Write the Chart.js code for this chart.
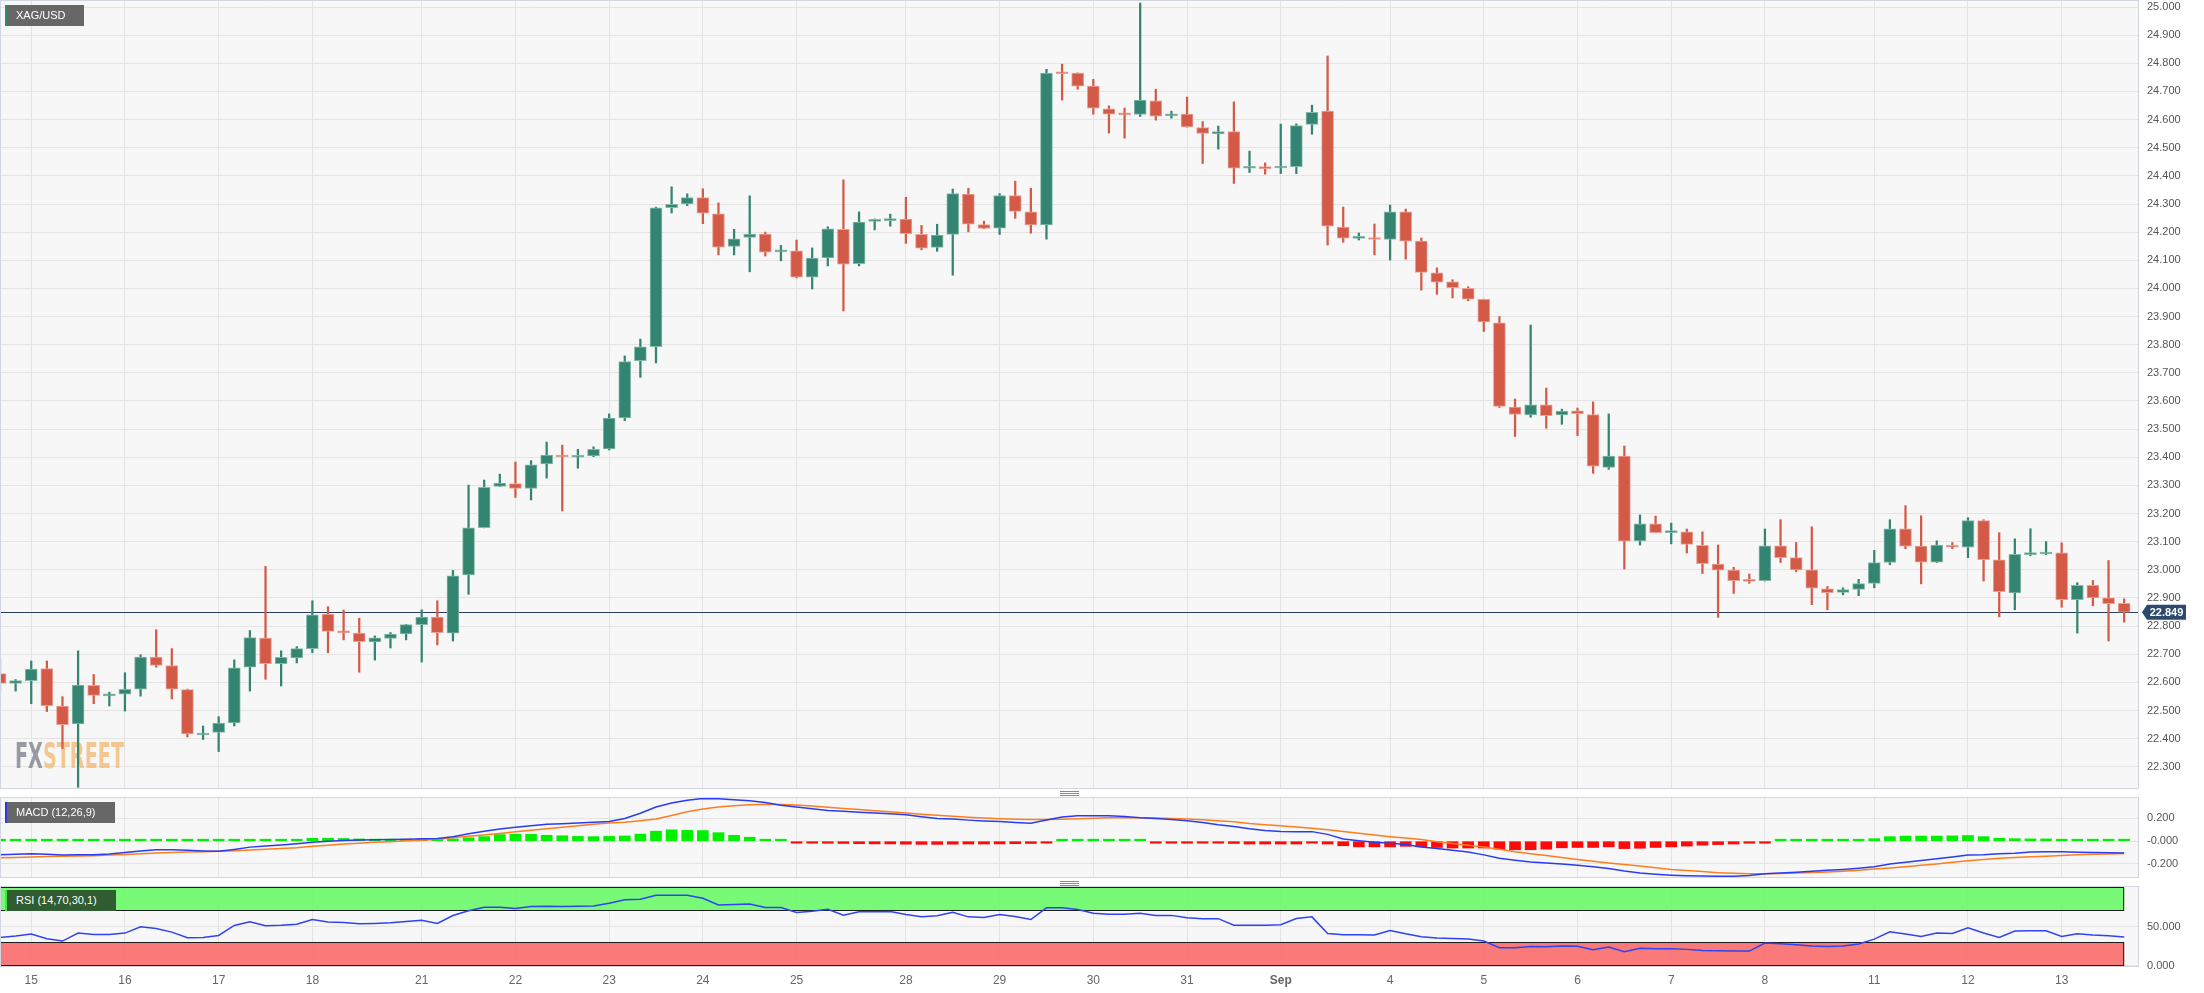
<!DOCTYPE html>
<html>
<head>
<meta charset="utf-8">
<title>XAG/USD</title>
<script src="https://cdn.jsdelivr.net/npm/chart.js@4.4.0/dist/chart.umd.min.js"></script>
<style>
  html, body { margin: 0; padding: 0; background: #fff; }
  #wrap { position: relative; width: 2204px; height: 993px; overflow: hidden; font-family: "Liberation Sans", Arial, sans-serif; }
  canvas { position: absolute; left: 0; }
  #priceCanvas { top: 0; }
  #macdCanvas { top: 797px; }
  #rsiCanvas { top: 886px; }
  .tag { position: absolute; left: 5px; height: 21px; line-height: 21px; color: #fff; font-size: 11px; padding-left: 11px; box-sizing: border-box; white-space: nowrap; }
  .tag span { position: absolute; left: 0; top: 0; width: 2px; height: 21px; }
  .handle { position: absolute; left: 1060px; width: 19px; height: 5px; border-top: 1px solid #8a8a8a; border-bottom: 1px solid #8a8a8a; box-sizing: border-box; }
  .handle::after { content: ''; position: absolute; left: 0; right: 0; top: 1px; height: 1px; background: #8a8a8a; }
</style>
</head>
<body>
<div id="wrap">
  <canvas id="priceCanvas" width="2204" height="789"></canvas>
  <canvas id="macdCanvas" width="2204" height="81"></canvas>
  <canvas id="rsiCanvas" width="2204" height="107"></canvas>
  <div class="tag" style="top:5px;width:79px;background:rgba(95,95,95,0.95);"><span style="background:#2e8b6e"></span>XAG/USD</div>
  <div class="tag" style="top:802px;width:110px;background:rgba(95,95,95,0.95);"><span style="background:#2b3bd8"></span>MACD (12,26,9)</div>
  <div class="tag" style="top:890px;width:111px;background:#2f5c30;"><span style="background:#40e840"></span>RSI (14,70,30,1)</div>
  <div class="handle" style="top:791px"></div>
  <div class="handle" style="top:881px"></div>
</div>
<script>
// 4h candles, 15 Aug -> 13 Sep
const open = [
  22.631, 22.596, 22.606, 22.649, 22.516, 22.452, 22.589, 22.552, 22.558, 22.576,
  22.690, 22.660, 22.574, 22.413, 22.422, 22.456, 22.654, 22.757, 22.666, 22.687,
  22.720, 22.843, 22.779, 22.775, 22.744, 22.756, 22.772, 22.805, 22.832, 22.775,
  22.982, 23.150, 23.296, 23.306, 23.289, 23.376, 23.408, 23.400, 23.405, 23.430,
  23.540, 23.743, 23.793, 24.287, 24.300, 24.323, 24.265, 24.149, 24.181, 24.193,
  24.130, 24.134, 24.040, 24.108, 24.210, 24.088, 24.238, 24.241, 24.246, 24.192,
  24.146, 24.192, 24.335, 24.227, 24.214, 24.330, 24.272, 24.226, 24.766, 24.765,
  24.719, 24.638, 24.620, 24.618, 24.667, 24.613, 24.620, 24.572, 24.549, 24.557,
  24.427, 24.431, 24.428, 24.433, 24.583, 24.630, 24.218, 24.178, 24.181, 24.174,
  24.272, 24.168, 24.055, 24.023, 24.000, 23.961, 23.878, 23.578, 23.550, 23.586,
  23.550, 23.565, 23.552, 23.364, 23.404, 23.103, 23.163, 23.132, 23.135, 23.087,
  23.020, 22.999, 22.961, 22.961, 23.085, 23.043, 23.000, 22.932, 22.920, 22.930,
  22.952, 23.026, 23.146, 23.084, 23.027, 23.087, 23.080, 23.175, 23.035, 22.918,
  23.054, 23.056, 23.060, 22.894, 22.945, 22.900, 22.881
];
const high = [
  22.683, 22.610, 22.676, 22.676, 22.549, 22.712, 22.628, 22.565, 22.634, 22.698,
  22.787, 22.720, 22.576, 22.445, 22.478, 22.680, 22.784, 23.012, 22.712, 22.727,
  22.890, 22.869, 22.857, 22.828, 22.765, 22.777, 22.806, 22.858, 22.890, 22.998,
  23.301, 23.319, 23.340, 23.383, 23.388, 23.454, 23.443, 23.428, 23.437, 23.554,
  23.760, 23.820, 24.289, 24.361, 24.336, 24.354, 24.304, 24.210, 24.329, 24.200,
  24.153, 24.172, 24.144, 24.219, 24.386, 24.272, 24.247, 24.264, 24.324, 24.224,
  24.228, 24.353, 24.356, 24.239, 24.337, 24.381, 24.356, 24.779, 24.797, 24.766,
  24.743, 24.649, 24.641, 25.014, 24.708, 24.630, 24.680, 24.593, 24.577, 24.663,
  24.488, 24.446, 24.584, 24.585, 24.651, 24.826, 24.289, 24.197, 24.229, 24.296,
  24.282, 24.179, 24.073, 24.031, 24.006, 23.962, 23.900, 23.607, 23.870, 23.646,
  23.571, 23.575, 23.597, 23.554, 23.440, 23.195, 23.191, 23.166, 23.145, 23.135,
  23.088, 23.009, 22.985, 23.145, 23.178, 23.097, 23.153, 22.941, 22.936, 22.966,
  23.069, 23.178, 23.228, 23.192, 23.103, 23.097, 23.185, 23.178, 23.132, 23.110,
  23.146, 23.100, 23.096, 22.954, 22.962, 23.033, 22.897
];
const low = [
  22.565, 22.569, 22.524, 22.496, 22.365, 22.227, 22.524, 22.516, 22.498, 22.551,
  22.654, 22.541, 22.406, 22.397, 22.354, 22.445, 22.569, 22.611, 22.587, 22.669,
  22.705, 22.705, 22.751, 22.636, 22.679, 22.722, 22.751, 22.672, 22.733, 22.747,
  22.913, 23.149, 23.296, 23.257, 23.248, 23.326, 23.209, 23.361, 23.402, 23.426,
  23.530, 23.684, 23.735, 24.268, 24.294, 24.230, 24.119, 24.119, 24.059, 24.115,
  24.098, 24.037, 23.998, 24.080, 23.920, 24.080, 24.208, 24.221, 24.160, 24.137,
  24.132, 24.047, 24.201, 24.212, 24.192, 24.249, 24.196, 24.175, 24.669, 24.708,
  24.619, 24.552, 24.534, 24.611, 24.598, 24.605, 24.573, 24.444, 24.495, 24.373,
  24.412, 24.406, 24.408, 24.408, 24.548, 24.154, 24.164, 24.172, 24.119, 24.101,
  24.104, 23.994, 23.979, 23.966, 23.956, 23.847, 23.577, 23.474, 23.542, 23.503,
  23.517, 23.477, 23.343, 23.357, 23.003, 23.088, 23.131, 23.092, 23.060, 22.987,
  22.831, 22.916, 22.952, 22.960, 23.026, 22.993, 22.876, 22.858, 22.911, 22.908,
  22.936, 23.018, 23.075, 22.950, 23.026, 23.075, 23.043, 22.960, 22.833, 22.858,
  23.050, 23.054, 22.867, 22.775, 22.872, 22.747, 22.814
];
const close = [
  22.596, 22.606, 22.647, 22.517, 22.450, 22.590, 22.554, 22.555, 22.575, 22.690,
  22.660, 22.576, 22.417, 22.420, 22.455, 22.652, 22.759, 22.666, 22.689, 22.720,
  22.840, 22.781, 22.776, 22.745, 22.758, 22.772, 22.805, 22.832, 22.777, 22.979,
  23.149, 23.293, 23.308, 23.289, 23.373, 23.408, 23.401, 23.407, 23.428, 23.539,
  23.740, 23.792, 24.286, 24.299, 24.323, 24.267, 24.147, 24.176, 24.193, 24.129,
  24.136, 24.040, 24.108, 24.212, 24.086, 24.236, 24.243, 24.246, 24.195, 24.143,
  24.190, 24.337, 24.228, 24.213, 24.330, 24.274, 24.226, 24.765, 24.763, 24.719,
  24.641, 24.619, 24.617, 24.669, 24.612, 24.618, 24.574, 24.551, 24.557, 24.427,
  24.429, 24.426, 24.434, 24.579, 24.626, 24.221, 24.179, 24.181, 24.174, 24.272,
  24.168, 24.057, 24.022, 24.003, 23.962, 23.881, 23.581, 23.552, 23.586, 23.548,
  23.564, 23.555, 23.368, 23.404, 23.102, 23.163, 23.132, 23.134, 23.090, 23.022,
  22.999, 22.961, 22.959, 23.085, 23.043, 23.000, 22.935, 22.919, 22.930, 22.951,
  23.026, 23.146, 23.084, 23.027, 23.088, 23.080, 23.175, 23.036, 22.922, 23.055,
  23.057, 23.060, 22.894, 22.945, 22.900, 22.880, 22.849
];

const macdLine = [
  -0.119, -0.115, -0.110, -0.115, -0.122, -0.120, -0.118, -0.112, -0.100, -0.087,
  -0.076, -0.074, -0.080, -0.086, -0.089, -0.072, -0.052, -0.042, -0.033, -0.022,
  -0.010, 0.000, 0.006, 0.010, 0.012, 0.014, 0.018, 0.022, 0.024, 0.040,
  0.065, 0.088, 0.107, 0.122, 0.136, 0.148, 0.154, 0.160, 0.166, 0.172,
  0.200, 0.246, 0.300, 0.335, 0.360, 0.374, 0.372, 0.364, 0.356, 0.340,
  0.315, 0.300, 0.285, 0.270, 0.262, 0.255, 0.247, 0.242, 0.232, 0.215,
  0.200, 0.195, 0.185, 0.178, 0.172, 0.165, 0.157, 0.186, 0.212, 0.223,
  0.224, 0.223, 0.216, 0.206, 0.200, 0.190, 0.180, 0.165, 0.145, 0.130,
  0.110, 0.095, 0.086, 0.084, 0.084, 0.060, 0.020, 0.005, -0.010, -0.018,
  -0.030, -0.050, -0.065, -0.080, -0.095, -0.120, -0.150, -0.168, -0.183, -0.192,
  -0.200, -0.212, -0.225, -0.240, -0.262, -0.280, -0.290, -0.298, -0.303, -0.306,
  -0.308, -0.308, -0.300, -0.286, -0.280, -0.272, -0.264, -0.256, -0.248, -0.238,
  -0.225, -0.200, -0.185, -0.170, -0.155, -0.138, -0.122, -0.118, -0.110, -0.105,
  -0.095, -0.092, -0.093, -0.097, -0.099, -0.101, -0.103
];
const signalLine = [
  -0.145, -0.142, -0.138, -0.135, -0.132, -0.130, -0.127, -0.122, -0.116, -0.110,
  -0.104, -0.099, -0.095, -0.092, -0.089, -0.084, -0.078, -0.071, -0.064, -0.057,
  -0.044, -0.035, -0.025, -0.018, -0.010, -0.004, 0.003, 0.009, 0.018, 0.030,
  0.043, 0.055, 0.068, 0.083, 0.097, 0.110, 0.122, 0.135, 0.148, 0.160,
  0.166, 0.180, 0.195, 0.225, 0.258, 0.283, 0.300, 0.312, 0.320, 0.325,
  0.323, 0.318, 0.310, 0.298, 0.288, 0.278, 0.268, 0.258, 0.248, 0.237,
  0.228, 0.220, 0.211, 0.203, 0.196, 0.192, 0.190, 0.190, 0.193, 0.198,
  0.202, 0.206, 0.206, 0.205, 0.204, 0.200, 0.195, 0.188, 0.180, 0.170,
  0.155, 0.145, 0.135, 0.124, 0.113, 0.100, 0.085, 0.070, 0.055, 0.040,
  0.028, 0.015, -0.005, -0.020, -0.035, -0.050, -0.070, -0.092, -0.110, -0.125,
  -0.143, -0.160, -0.177, -0.192, -0.205, -0.218, -0.232, -0.248, -0.258, -0.267,
  -0.276, -0.282, -0.285, -0.285, -0.283, -0.280, -0.275, -0.270, -0.264, -0.256,
  -0.245, -0.235, -0.225, -0.212, -0.200, -0.185, -0.172, -0.160, -0.150, -0.143,
  -0.136, -0.131, -0.126, -0.120, -0.115, -0.112, -0.109
];
const macdHist = [
  0.006, 0.006, 0.006, 0.005, 0.004, 0.004, 0.005, 0.006, 0.012, 0.013,
  0.012, 0.006, 0.002, 0.002, 0.002, 0.010, 0.015, 0.016, 0.016, 0.017,
  0.025, 0.026, 0.024, 0.020, 0.018, 0.017, 0.015, 0.015, 0.014, 0.020,
  0.030, 0.040, 0.058, 0.062, 0.060, 0.052, 0.048, 0.042, 0.040, 0.042,
  0.046, 0.062, 0.088, 0.100, 0.095, 0.093, 0.075, 0.052, 0.035, 0.012,
  0.002, -0.010, -0.015, -0.018, -0.020, -0.022, -0.024, -0.024, -0.026, -0.028,
  -0.028, -0.026, -0.025, -0.025, -0.024, -0.022, -0.020, -0.002, 0.008, 0.012,
  0.010, 0.006, 0.002, 0.001, -0.002, -0.006, -0.010, -0.013, -0.016, -0.020,
  -0.025, -0.025, -0.025, -0.025, -0.012, -0.025, -0.040, -0.050, -0.050, -0.050,
  -0.045, -0.050, -0.055, -0.060, -0.060, -0.060, -0.070, -0.075, -0.075, -0.070,
  -0.058, -0.055, -0.055, -0.050, -0.065, -0.062, -0.055, -0.050, -0.043, -0.035,
  -0.030, -0.025, -0.018, -0.004, 0.004, 0.006, 0.008, 0.010, 0.012, 0.015,
  0.022, 0.040, 0.045, 0.045, 0.045, 0.047, 0.050, 0.040, 0.025, 0.022,
  0.020, 0.020, 0.013, 0.008, 0.005, 0.003, 0.002
];
const rsi = [
  36.0, 37.8, 40.3, 34.4, 31.4, 41.6, 39.9, 39.9, 41.6, 49.6,
  47.5, 42.8, 35.6, 36.0, 38.6, 51.3, 56.0, 50.9, 51.7, 53.0,
  58.9, 55.6, 55.1, 53.4, 53.9, 54.7, 56.4, 58.1, 53.9, 64.0,
  70.0, 74.6, 74.6, 72.9, 75.5, 75.9, 75.5, 75.9, 76.3, 79.7,
  84.0, 84.8, 89.9, 89.9, 89.9, 86.0, 77.6, 78.0, 78.8, 74.2,
  74.3, 67.9, 69.5, 72.1, 64.5, 68.7, 68.9, 69.0, 65.3, 62.3,
  63.6, 68.3, 62.3, 61.5, 65.3, 62.8, 58.9, 73.8, 73.8, 71.7,
  67.0, 65.7, 65.6, 67.0, 64.0, 64.2, 61.1, 59.8, 60.0, 51.7,
  51.7, 51.6, 52.2, 60.2, 62.3, 41.1, 39.4, 39.5, 39.3, 45.0,
  40.7, 36.9, 35.2, 34.8, 33.9, 31.4, 23.0, 22.9, 24.6, 24.2,
  25.0, 24.8, 20.4, 23.7, 17.8, 22.1, 21.6, 21.7, 20.8, 19.5,
  19.1, 18.7, 18.6, 28.8, 28.0, 26.7, 25.0, 24.6, 25.0, 27.6,
  33.9, 43.3, 40.3, 37.3, 41.6, 41.1, 48.3, 41.6, 36.0, 44.1,
  44.5, 44.6, 37.3, 40.7, 39.0, 38.2, 36.5
];

const dayTickIdx = [2, 8, 14, 20, 27, 33, 39, 45, 51, 58, 64, 70, 76, 82, 89, 95, 101, 107, 113, 120, 126, 132];
const dayTickLabels = ['15', '16', '17', '18', '21', '22', '23', '24', '25', '28', '29', '30', '31', 'Sep', '4', '5', '6', '7', '8', '11', '12', '13'];
const rsiUpper = [70, 100];
const rsiLower = [0, 30];

const FONT = '"Liberation Sans", Arial, sans-serif';
const gridColor = '#e4e4e4';
const frameColor = '#d2d6e2';
const upColor = '#338571';
const downColor = '#d45a48';
const xMin = 0;
const xMax = 136.95;

Chart.defaults.font.family = FONT;
const idx = close.map((_, i) => i);
const isUp = i => close[i] >= open[i];

// plot background + frame for every panel
const panelFrame = {
  id: 'panelFrame',
  beforeDraw(chart) {
    const a = chart.chartArea, ctx = chart.ctx;
    ctx.save();
    ctx.fillStyle = '#f7f7f7';
    ctx.fillRect(a.left, a.top, a.right - a.left, a.bottom - a.top);
    ctx.restore();
  },
  afterDraw(chart) {
    const a = chart.chartArea, ctx = chart.ctx;
    ctx.save();
    ctx.strokeStyle = frameColor;
    ctx.lineWidth = 1;
    ctx.strokeRect(a.left + 0.5, a.top + 0.5, a.right - a.left - 1, a.bottom - a.top - 1);
    ctx.restore();
  }
};

function xAxis(showLabels) {
  return {
    type: 'linear', min: xMin, max: xMax, offset: false,
    grid: { color: gridColor, drawTicks: false, offset: false },
    border: { display: false },
    ticks: showLabels ? {
      autoSkip: false, maxRotation: 0, padding: 6, color: '#666',
      font: c => ({ size: 12, family: FONT, weight: dayTickLabels[c.index] === 'Sep' ? 'bold' : 'normal' }),
      callback: v => dayTickLabels[dayTickIdx.indexOf(v)]
    } : { display: false },
    afterBuildTicks: s => { s.ticks = dayTickIdx.map(v => ({ value: v })); },
    afterFit: s => { s.height = showLabels ? 26 : 0; s.paddingLeft = 0; s.paddingRight = 0; }
  };
}

function yAxis(min, max, extra) {
  return Object.assign({
    position: 'right', min: min, max: max,
    grid: { color: gridColor, drawTicks: false },
    border: { display: false },
    afterFit: s => { s.width = 65; s.paddingTop = 0; s.paddingBottom = 0; }
  }, extra);
}

const tickFont = { size: 11, family: FONT };

// ---- price panel ----
const priceExtras = {
  id: 'priceExtras',
  beforeDatasetsDraw(chart) {
    const ctx = chart.ctx, a = chart.chartArea;
    // watermark
    ctx.save();
    ctx.font = 'bold 36px "Liberation Sans Narrow", "DejaVu Sans Condensed", sans-serif';
    const w1 = ctx.measureText('FX').width, w2 = ctx.measureText('STREET').width;
    const sx = 109 / (w1 + w2);
    ctx.translate(a.left + 15, 768);
    ctx.scale(sx, 1);
    ctx.textBaseline = 'alphabetic';
    ctx.fillStyle = 'rgba(135,137,147,0.85)';
    ctx.fillText('FX', 0, 0);
    ctx.fillStyle = 'rgba(240,186,120,0.8)';
    ctx.fillText('STREET', w1, 0);
    ctx.restore();
    // last price line
    const y = Math.round(chart.scales.y.getPixelForValue(close[close.length - 1])) + 0.5;
    ctx.save();
    ctx.strokeStyle = '#2b3d5c';
    ctx.lineWidth = 1.2;
    ctx.beginPath();
    ctx.moveTo(a.left, y);
    ctx.lineTo(a.right, y);
    ctx.stroke();
    ctx.restore();
  },
  afterDraw(chart) {
    const ctx = chart.ctx, a = chart.chartArea;
    const last = close[close.length - 1];
    const y = chart.scales.y.getPixelForValue(last);
    const x0 = a.right + 3, x1 = x0 + 5, x2 = x0 + 44;
    ctx.save();
    ctx.fillStyle = '#2d4a6d';
    ctx.beginPath();
    ctx.moveTo(x0, y);
    ctx.lineTo(x1, y - 7.5);
    ctx.lineTo(x2, y - 7.5);
    ctx.lineTo(x2, y + 7.5);
    ctx.lineTo(x1, y + 7.5);
    ctx.closePath();
    ctx.fill();
    ctx.fillStyle = '#fff';
    ctx.font = 'bold 11px ' + FONT;
    ctx.textAlign = 'center';
    ctx.textBaseline = 'middle';
    ctx.fillText(last.toFixed(3), (x1 + x2) / 2, y + 0.5);
    ctx.restore();
  }
};

new Chart(document.getElementById('priceCanvas'), {
  type: 'bar',
  data: {
    datasets: [{
      label: 'wick',
      data: idx.map(i => ({ x: i, y: [low[i], high[i]] })),
      backgroundColor: idx.map(i => isUp(i) ? upColor : downColor),
      barThickness: 1.6,
      grouped: false,
      order: 2
    }, {
      label: 'body',
      data: idx.map(i => ({ x: i, y: [open[i], close[i]] })),
      backgroundColor: idx.map(i => isUp(i) ? upColor : downColor),
      borderColor: idx.map(i => isUp(i) ? '#86bbab' : '#eba194'),
      borderWidth: 1,
      borderSkipped: false,
      barThickness: 12,
      minBarLength: 2,
      grouped: false,
      order: 1
    }]
  },
  options: {
    responsive: false, animation: false, devicePixelRatio: 1, events: [],
    layout: { padding: 0 },
    plugins: { legend: { display: false }, tooltip: { enabled: false } },
    scales: {
      x: xAxis(false),
      y: yAxis(22.221, 25.025, {
        ticks: { stepSize: 0.1, includeBounds: false, autoSkip: false, padding: 8, color: '#555', font: tickFont,
          callback: v => v.toFixed(3) }
      })
    }
  },
  plugins: [panelFrame, priceExtras]
});

// ---- MACD panel ----
new Chart(document.getElementById('macdCanvas'), {
  type: 'bar',
  data: {
    datasets: [{
      type: 'line',
      label: 'MACD',
      data: idx.map(i => ({ x: i, y: macdLine[i] })),
      borderColor: '#2a3cf2',
      borderWidth: 1.5,
      pointRadius: 0,
      order: 1
    }, {
      type: 'line',
      label: 'Signal',
      data: idx.map(i => ({ x: i, y: signalLine[i] })),
      borderColor: '#ff7d1e',
      borderWidth: 1.5,
      pointRadius: 0,
      order: 2
    }, {
      label: 'Histogram',
      data: idx.map(i => ({ x: i, y: macdHist[i] })),
      backgroundColor: macdHist.map(v => v >= 0 ? '#00f000' : '#ff0a0a'),
      barThickness: 11,
      minBarLength: 2,
      grouped: false,
      order: 3
    }]
  },
  options: {
    responsive: false, animation: false, devicePixelRatio: 1, events: [],
    layout: { padding: 0 },
    plugins: { legend: { display: false }, tooltip: { enabled: false } },
    scales: {
      x: xAxis(false),
      y: yAxis(-0.323, 0.388, {
        afterBuildTicks: s => { s.ticks = [-0.2, 0, 0.2].map(v => ({ value: v })); },
        ticks: { padding: 8, color: '#555', font: tickFont,
          callback: v => Math.abs(v) < 1e-9 ? '-0.000' : v.toFixed(3) }
      })
    }
  },
  plugins: [panelFrame]
});

// ---- RSI panel ----
const rsiBands = {
  id: 'rsiBands',
  beforeDatasetsDraw(chart) {
    const ctx = chart.ctx, a = chart.chartArea;
    const xs = chart.scales.x, ys = chart.scales.y;
    const right = xs.getPixelForValue(close.length - 1);
    const bands = [[rsiUpper, 'rgba(108,248,108,0.92)'], [rsiLower, 'rgba(250,111,111,0.92)']];
    ctx.save();
    bands.forEach(([b, col]) => {
      const top = ys.getPixelForValue(b[1]), bot = ys.getPixelForValue(b[0]);
      ctx.fillStyle = col;
      ctx.fillRect(a.left, top, right - a.left, bot - top);
      ctx.strokeStyle = '#1c1c1c';
      ctx.lineWidth = 1;
      ctx.strokeRect(a.left + 0.5, Math.round(top) + 0.5, right - a.left - 1, Math.round(bot - top) - 1);
    });
    ctx.restore();
  }
};

new Chart(document.getElementById('rsiCanvas'), {
  type: 'line',
  data: {
    datasets: [{
      label: 'RSI',
      data: idx.map(i => ({ x: i, y: rsi[i] })),
      borderColor: '#2f43f0',
      borderWidth: 1.5,
      pointRadius: 0
    }]
  },
  options: {
    responsive: false, animation: false, devicePixelRatio: 1, events: [],
    layout: { padding: 0 },
    plugins: { legend: { display: false }, tooltip: { enabled: false } },
    scales: {
      x: xAxis(true),
      y: yAxis(-1.7, 101.7, {
        afterBuildTicks: s => { s.ticks = [0, 50].map(v => ({ value: v })); },
        ticks: { padding: 8, color: '#555', font: tickFont, callback: v => v.toFixed(3) }
      })
    }
  },
  plugins: [panelFrame, rsiBands]
});
</script>
</body>
</html>
